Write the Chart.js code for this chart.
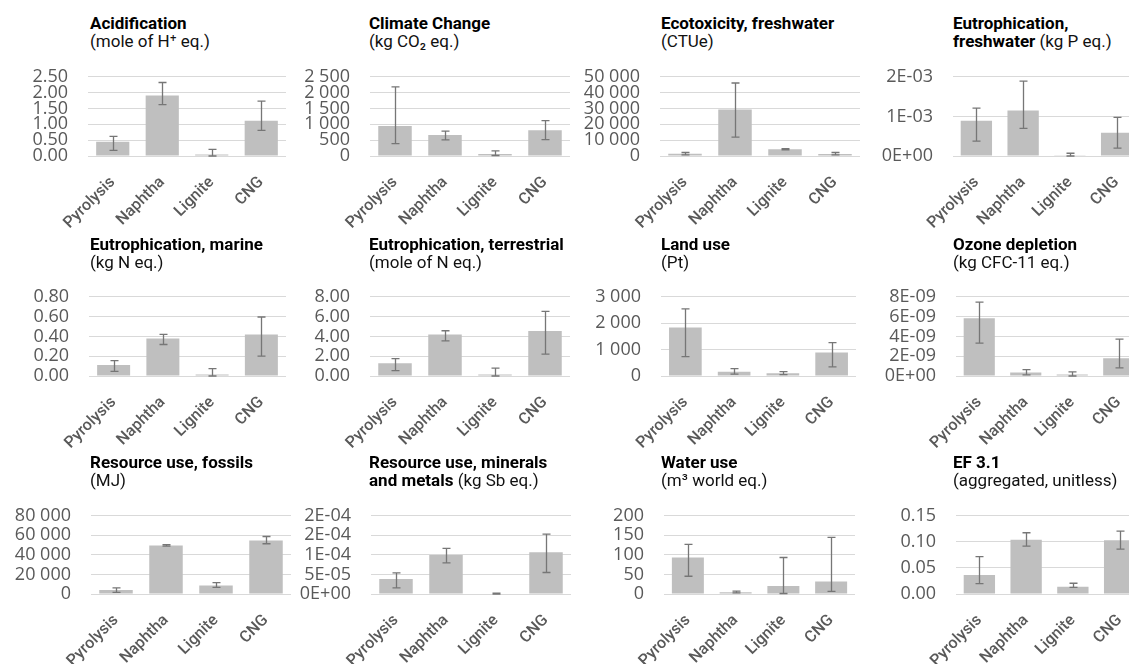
<!DOCTYPE html>
<html>
<head>
<meta charset="utf-8">
<script src="https://cdn.jsdelivr.net/npm/chart.js@4.4.1/dist/chart.umd.min.js"></script>
<style>
  html, body { margin: 0; padding: 0; background: #fff; }
  body { width: 1129px; height: 664px; overflow: hidden; position: relative; }
  canvas { position: absolute; }
  .ttl { position: absolute; font-family: Roboto, sans-serif; font-size: 17px; line-height: 18px; color: #111; white-space: nowrap; }
  .ttl b { font-weight: 700; color: #000; }
</style>
</head>
<body>
<script>
// Categories shared by all impact panels
const categories = ['Pyrolysis', 'Naphtha', 'Lignite', 'CNG'];

// Acidification (mole of H+ eq.)
const acidMean = [0.45, 1.91, 0.05, 1.11];
const acidLow = [0.18, 1.62, 0.0, 0.81];
const acidHigh = [0.62, 2.32, 0.21, 1.73];
const acidTicks = ['0.00', '0.50', '1.00', '1.50', '2.00', '2.50'];

// Climate change (kg CO2 eq.)
const climMean = [950, 665, 60, 810];
const climLow = [390, 510, 15, 520];
const climHigh = [2180, 785, 160, 1115];
const climTicks = ['0', '500', '1\u00a0000', '1\u00a0500', '2\u00a0000', '2\u00a0500'];

// Ecotoxicity, freshwater (CTUe)
const ecoMean = [1400, 29300, 4250, 1200];
const ecoLow = [700, 11900, 3900, 700];
const ecoHigh = [2200, 46100, 4600, 2200];
const ecoTicks = ['0', '10\u00a0000', '20\u00a0000', '30\u00a0000', '40\u00a0000', '50\u00a0000'];

// Eutrophication, freshwater (kg P eq.)
const eutFwMean = [0.00089, 0.00115, 0.00002, 0.00059];
const eutFwLow = [0.000375, 0.0007, 0.0, 0.0002];
const eutFwHigh = [0.00121, 0.00189, 0.00007, 0.000975];
const eutFwTicks = ['0E+00', '1E-03', '2E-03'];

// Eutrophication, marine (kg N eq.)
const eutMarMean = [0.11, 0.38, 0.014, 0.42];
const eutMarLow = [0.047, 0.318, 0.0, 0.20];
const eutMarHigh = [0.155, 0.42, 0.074, 0.596];
const eutMarTicks = ['0.00', '0.20', '0.40', '0.60', '0.80'];

// Eutrophication, terrestrial (mole of N eq.)
const eutTerMean = [1.28, 4.19, 0.14, 4.55];
const eutTerLow = [0.55, 3.54, 0.0, 2.2];
const eutTerHigh = [1.75, 4.57, 0.79, 6.53];
const eutTerTicks = ['0.00', '2.00', '4.00', '6.00', '8.00'];

// Land use (Pt)
const landMean = [1837, 165, 104, 888];
const landLow = [735, 73, 52, 349];
const landHigh = [2541, 276, 165, 1267];
const landTicks = ['0', '1\u00a0000', '2\u00a0000', '3\u00a0000'];

// Ozone depletion (kg CFC-11 eq.)
const ozoneMean = [5.83e-9, 0.36e-9, 0.14e-9, 1.8e-9];
const ozoneLow = [3.32e-9, 0.11e-9, 0.0, 0.82e-9];
const ozoneHigh = [7.46e-9, 0.65e-9, 0.41e-9, 3.73e-9];
const ozoneTicks = ['0E+00', '2E-09', '4E-09', '6E-09', '8E-09'];

// Resource use, fossils (MJ)
const fossilMean = [4100, 49700, 8700, 54700];
const fossilLow = [1650, 48900, 6850, 51400];
const fossilHigh = [6270, 50560, 11550, 58800];
const fossilTicks = ['0', '20\u00a0000', '40\u00a0000', '60\u00a0000', '80\u00a0000'];

// Resource use, minerals and metals (kg Sb eq.)
const mineralMean = [3.84e-5, 1.0e-4, 1.0e-6, 1.07e-4];
const mineralLow = [1.57e-5, 7.96e-5, 0.0, 5.5e-5];
const mineralHigh = [5.42e-5, 1.167e-4, 2.0e-6, 1.53e-4];
const mineralTicks = ['0E+00', '5E-05', '1E-04', '2E-04', '2E-04'];

// Water use (m3 world eq.)
const waterMean = [93.4, 4.7, 20.6, 32.2];
const waterLow = [45.4, 2.7, 1.3, 6.8];
const waterHigh = [127, 7.4, 93.4, 145];
const waterTicks = ['0', '50', '100', '150', '200'];

// EF 3.1 single score (aggregated, unitless)
const efMean = [0.0365, 0.104, 0.0139, 0.103];
const efLow = [0.020, 0.0917, 0.0128, 0.086];
const efHigh = [0.0716, 0.1175, 0.0206, 0.1206];
const efTicks = ['0.00', '0.05', '0.10', '0.15'];

// Panel layout: plot rectangle (left, right, top, zero line), axis step and title lines
const panels = [
  { mean: acidMean, low: acidLow, high: acidHigh, ticks: acidTicks, step: 0.5,
    l: 88, r: 286, t: 58, b: 156, tx: 90, ty: 14,
    title: ['<b>Acidification</b>', '(mole of H\u207A eq.)'] },
  { mean: climMean, low: climLow, high: climHigh, ticks: climTicks, step: 500,
    l: 370, r: 570, t: 58, b: 156, tx: 369, ty: 14,
    title: ['<b>Climate Change</b>', '(kg CO\u2082 eq.)'] },
  { mean: ecoMean, low: ecoLow, high: ecoHigh, ticks: ecoTicks, step: 10000,
    l: 660, r: 860, t: 58, b: 156, tx: 661, ty: 14,
    title: ['<b>Ecotoxicity, freshwater</b>', '(CTUe)'] },
  { mean: eutFwMean, low: eutFwLow, high: eutFwHigh, ticks: eutFwTicks, step: 0.001,
    l: 953, r: 1140, t: 58, b: 156, tx: 953, ty: 14,
    title: ['<b>Eutrophication,</b>', '<b>freshwater</b> (kg P eq.)'] },

  { mean: eutMarMean, low: eutMarLow, high: eutMarHigh, ticks: eutMarTicks, step: 0.2,
    l: 89, r: 286, t: 278, b: 376, tx: 90, ty: 235,
    title: ['<b>Eutrophication, marine</b>', '(kg N eq.)'] },
  { mean: eutTerMean, low: eutTerLow, high: eutTerHigh, ticks: eutTerTicks, step: 2,
    l: 370, r: 570, t: 278, b: 376, tx: 369, ty: 235,
    title: ['<b>Eutrophication, terrestrial</b>', '(mole of N eq.)'] },
  { mean: landMean, low: landLow, high: landHigh, ticks: landTicks, step: 1000,
    l: 661, r: 856, t: 278, b: 376, tx: 661, ty: 235,
    title: ['<b>Land use</b>', '(Pt)'] },
  { mean: ozoneMean, low: ozoneLow, high: ozoneHigh, ticks: ozoneTicks, step: 2e-9,
    l: 956, r: 1142, t: 278, b: 376, tx: 953, ty: 235,
    title: ['<b>Ozone depletion</b>', '(kg CFC-11 eq.)'] },

  { mean: fossilMean, low: fossilLow, high: fossilHigh, ticks: fossilTicks, step: 20000,
    l: 91, r: 291, t: 497, b: 594, tx: 90, ty: 453,
    title: ['<b>Resource use, fossils</b>', '(MJ)'] },
  { mean: mineralMean, low: mineralLow, high: mineralHigh, ticks: mineralTicks, step: 5e-5,
    l: 371, r: 571, t: 497, b: 594, tx: 369, ty: 453,
    title: ['<b>Resource use, minerals</b>', '<b>and metals</b> (kg Sb eq.)'] },
  { mean: waterMean, low: waterLow, high: waterHigh, ticks: waterTicks, step: 50,
    l: 664, r: 855, t: 497, b: 594, tx: 661, ty: 453,
    title: ['<b>Water use</b>', '(m\u00B3 world eq.)'] },
  { mean: efMean, low: efLow, high: efHigh, ticks: efTicks, step: 0.05,
    l: 956, r: 1143, t: 497, b: 594, tx: 953, ty: 453,
    title: ['<b>EF 3.1</b>', '(aggregated, unitless)'] }
];

// Draws min/max whiskers for each bar using the y scale of the chart
const errorBars = {
  id: 'errorBars',
  afterDatasetsDraw(chart) {
    const ds = chart.data.datasets[0];
    const meta = chart.getDatasetMeta(0);
    const y = chart.scales.y;
    const ctx = chart.ctx;
    const cap = 4;
    ctx.save();
    ctx.strokeStyle = '#767676';
    ctx.lineWidth = 1.3;
    meta.data.forEach((bar, i) => {
      const x = Math.round(bar.x) + 0.5;
      const yH = y.getPixelForValue(ds.errHigh[i]);
      const yL = y.getPixelForValue(ds.errLow[i]);
      ctx.beginPath();
      ctx.moveTo(x, yH); ctx.lineTo(x, yL);
      ctx.moveTo(x - cap, yH); ctx.lineTo(x + cap, yH);
      ctx.moveTo(x - cap, yL); ctx.lineTo(x + cap, yL);
      ctx.stroke();
    });
    ctx.restore();
  }
};

const Y_AXIS_W = 100;
const PAD_TOP = 12;
const X_AXIS_H = 80;

panels.forEach(p => {
  // title block
  const t = document.createElement('div');
  t.className = 'ttl';
  t.style.left = p.tx + 'px';
  t.style.top = p.ty + 'px';
  t.innerHTML = p.title.join('<br>');
  document.body.appendChild(t);

  const plotW = p.r - p.l;
  const plotH = p.b - p.t;
  const cv = document.createElement('canvas');
  const W = Y_AXIS_W + plotW + 4;
  const H = PAD_TOP + plotH + X_AXIS_H;
  cv.width = W; cv.height = H;
  cv.style.width = W + 'px'; cv.style.height = H + 'px';
  cv.style.left = (p.l - Y_AXIS_W) + 'px';
  cv.style.top = (p.t - PAD_TOP) + 'px';
  document.body.appendChild(cv);

  const maxVal = p.step * (p.ticks.length - 1);

  new Chart(cv, {
    type: 'bar',
    data: {
      labels: categories,
      datasets: [{
        data: p.mean,
        errLow: p.low,
        errHigh: p.high,
        backgroundColor: '#bfbfbf',
        borderWidth: 0,
        barPercentage: 0.67,
        categoryPercentage: 1.0
      }]
    },
    options: {
      responsive: false,
      animation: false,
      devicePixelRatio: 1,
      layout: { autoPadding: false, padding: { top: PAD_TOP, left: 0, right: 4, bottom: 0 } },
      plugins: { legend: { display: false }, title: { display: false }, tooltip: { enabled: false } },
      scales: {
        x: {
          grid: { display: false },
          border: { display: false },
          ticks: {
            color: '#595959',
            font: { family: 'Roboto', size: 16, weight: '500' },
            maxRotation: 45, minRotation: 45,
            padding: 9,
            autoSkip: false
          },
          afterFit(scale) { scale.height = X_AXIS_H; }
        },
        y: {
          min: 0,
          max: maxVal,
          grid: { color: '#d9d9d9', lineWidth: 1, drawTicks: false },
          border: { display: false },
          ticks: {
            color: '#595959',
            font: { family: 'Open Sans', size: 18 },
            padding: 20,
            autoSkip: false,
            callback: (v, i) => p.ticks[i]
          },
          afterBuildTicks(scale) {
            scale.ticks = p.ticks.map((_, i) => ({ value: i * p.step }));
          },
          afterFit(scale) { scale.width = Y_AXIS_W; }
        }
      }
    },
    plugins: [errorBars]
  });
});
</script>
</body>
</html>
